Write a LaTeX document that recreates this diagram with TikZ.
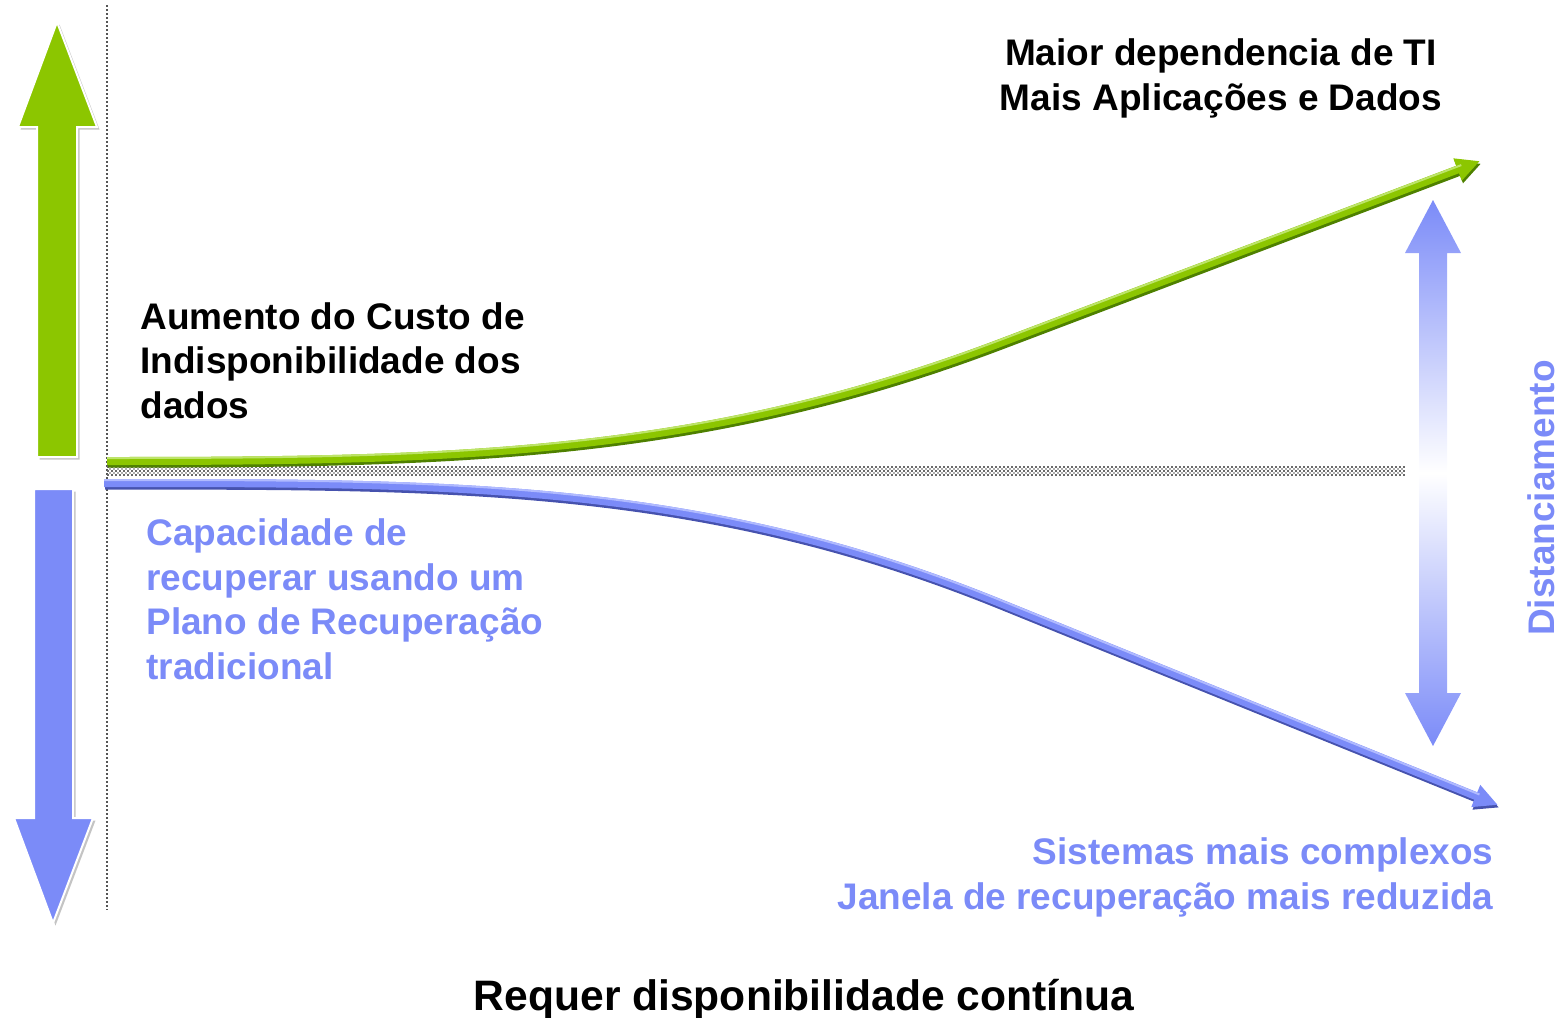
\documentclass[tikz,border=0pt]{standalone}
\usepackage{fontspec}
\setmainfont{Liberation Sans}
\usetikzlibrary{arrows.meta}
\definecolor{lime}{HTML}{8CC600}
\definecolor{limedark}{HTML}{4E8000}
\definecolor{limelight}{HTML}{BDE46A}
\definecolor{peri}{HTML}{7B8BF8}
\definecolor{peridark}{HTML}{4652AE}
\definecolor{perilight}{HTML}{B0BAFF}
\definecolor{shadowgray}{HTML}{C4C4C4}
\definecolor{dotgray}{HTML}{555555}
\definecolor{checkgray}{HTML}{6A6A6A}
\tikzset{
  lbl/.style={inner sep=0pt, font=\bfseries\fontsize{18.5}{22.25}\selectfont},
  lblk/.style={lbl, text=black},
  lblb/.style={lbl, text=peri},
  bigarrow/.style={draw=white, line width=1pt, line join=miter},
  arrshadow/.style={fill=shadowgray},
  tipg/.style={-{Triangle[length=12pt,width=11pt]}},
  curvemain/.style={line width=4pt, line cap=butt},
  curvedark/.style={line width=4pt, line cap=butt, transform canvas={xshift=0.6pt,yshift=-1.3pt}},
  curvelight/.style={line width=1pt, line cap=butt, shorten >=10pt, transform canvas={yshift=1.5pt}},
  checkA/.style={checkgray, line width=1pt, dash pattern=on 1pt off 1pt},
  checkB/.style={checkgray, line width=1pt, dash pattern=on 1pt off 1pt, dash phase=1pt},
}
\begin{document}
\begin{tikzpicture}[x=0.5pt,y=-0.5pt]
\useasboundingbox (0,0) rectangle (1560,1018);

% vertical dotted axis
\coordinate (vtop) at (107,5);
\coordinate (vbot) at (107,910);
\draw[dotgray, line width=1pt, dash pattern=on 1pt off 1pt] (vtop) -- (vbot);

% checkered baseline band
\coordinate (h1a) at (107,467); \coordinate (h1b) at (1405,467);
\coordinate (h2a) at (107,471); \coordinate (h2b) at (1405,471);
\coordinate (h3a) at (107,475); \coordinate (h3b) at (1405,475);
\coordinate (k1a) at (107,469); \coordinate (k1b) at (1405,469);
\coordinate (k2a) at (107,473); \coordinate (k2b) at (1405,473);
\draw[checkA] (h1a) -- (h1b);
\draw[checkA] (h2a) -- (h2b);
\draw[checkA] (h3a) -- (h3b);
\draw[checkB, draw opacity=0.55] (k1a) -- (k1b);
\draw[checkB, draw opacity=0.55] (k2a) -- (k2b);

% big green up arrow
\fill[arrshadow, shift={(2.5,2.5)}] (57,22) -- (97,127) -- (77,127) -- (77,457) -- (37,457) -- (37,127) -- (18,127) -- cycle;
\filldraw[fill=lime, bigarrow] (57,22) -- (97,127) -- (77,127) -- (77,457) -- (37,457) -- (37,127) -- (18,127) -- cycle;

% big blue down arrow
\fill[arrshadow, shift={(2.5,2.5)}] (34,489) -- (73,489) -- (73,818) -- (93,818) -- (53,923) -- (14,818) -- (34,818) -- cycle;
\filldraw[fill=peri, bigarrow] (34,489) -- (73,489) -- (73,818) -- (93,818) -- (53,923) -- (14,818) -- (34,818) -- cycle;

% distance double arrow with gradient
\shade[top color=peri, bottom color=peri, middle color=white]
  (1433,200) -- (1461,253) -- (1447,253) -- (1447,693) -- (1461,693) -- (1433,746)
  -- (1405,693) -- (1419,693) -- (1419,253) -- (1405,253) -- cycle;

% green curve
\coordinate (gs) at (107,461);
\coordinate (gm) at (1000,343);
\coordinate (ge) at (1480,161);
\draw[limedark, curvedark, tipg] (gs) .. controls (450,461) and (700,456.7) .. (gm) -- (ge);
\draw[lime, curvemain, tipg] (gs) .. controls (450,461) and (700,456.7) .. (gm) -- (ge);
\draw[limelight, curvelight] (gs) .. controls (450,461) and (700,456.7) .. (gm) -- (ge);

% blue curve
\coordinate (bs) at (104,483);
\coordinate (bm) at (1000,603);
\coordinate (be) at (1498,805);
\draw[peridark, curvedark, tipg] (bs) .. controls (450,483) and (700,481.2) .. (bm) -- (be);
\draw[peri, curvemain, tipg] (bs) .. controls (450,483) and (700,481.2) .. (bm) -- (be);
\draw[perilight, curvelight] (bs) .. controls (450,483) and (700,481.2) .. (bm) -- (be);

% texts
\node[lblk, anchor=base west, align=left] (cost) at (140,418) {Aumento do Custo de\\Indisponibilidade dos\\dados};
\node[lblb, anchor=base west, align=left] (cap) at (146,679) {Capacidade de\\recuperar usando um\\Plano de Recuperação\\tradicional};
\node[lblk, anchor=base, align=center] (dep) at (1221,110) {Maior dependencia de TI\\Mais Aplicações e Dados};
\node[lblb, anchor=base east, align=right] (sis) at (1494,909) {Sistemas mais complexos\\Janela de recuperação mais reduzida};
\node[lblk, font=\bfseries\fontsize{21.3}{25}\selectfont, anchor=base] (req) at (804,1010) {Requer disponibilidade contínua};
\node[lblb, rotate=90, anchor=center] (dist) at (1541,498) {Distanciamento};
\end{tikzpicture}
\end{document}
